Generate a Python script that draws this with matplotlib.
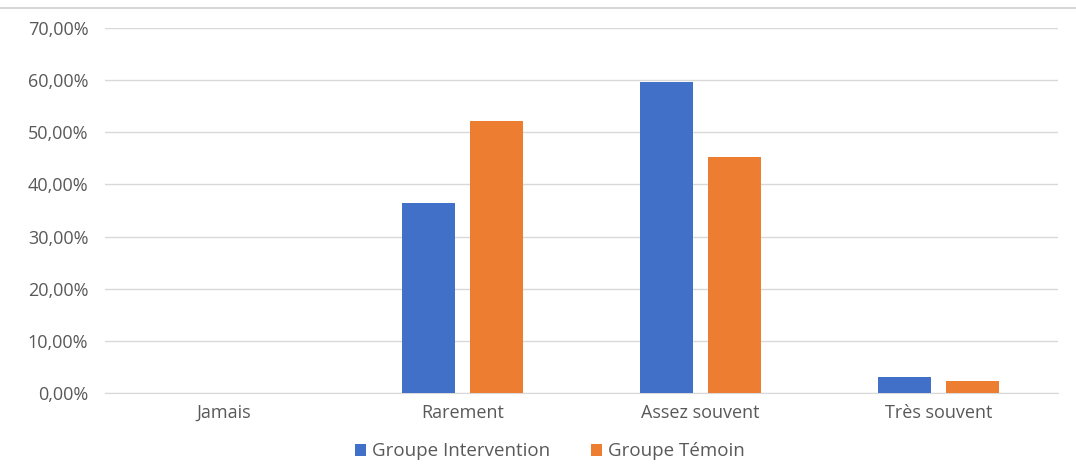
import numpy as np
import matplotlib
matplotlib.use("Agg")
import matplotlib.pyplot as plt
from matplotlib.lines import Line2D
from matplotlib.ticker import FuncFormatter, MultipleLocator

# ───── Data ─────
categories   = ["Jamais", "Rarement", "Assez souvent", "Très souvent"]
intervention = [0.0, 36.4, 59.6, 3.0]
temoin       = [0.0, 52.2, 45.3, 2.3]
series_names = ["Groupe Intervention", "Groupe Témoin"]

BLUE   = "#4070C8"
ORANGE = "#ED7D31"
GRID   = "#d9d9d9"
TEXT   = "#595959"

plt.rcParams["font.family"] = ["Open Sans", "DejaVu Sans"]

fig = plt.figure(figsize=(10.76, 4.76), dpi=100)
ax = fig.add_axes([0.0976, 0.1744, 0.8854, 0.7668])

x = np.arange(len(categories))
w = 0.223
off = 0.143
ax.bar(x - off, np.array(intervention) / 100, w, color=BLUE, label=series_names[0], zorder=3)
ax.bar(x + off, np.array(temoin) / 100, w, color=ORANGE, label=series_names[1], zorder=3)

ax.set_xlim(-0.5, len(categories) - 0.5)
ax.set_ylim(0, 0.70)
ax.yaxis.set_major_locator(MultipleLocator(0.10))
ax.yaxis.set_major_formatter(FuncFormatter(lambda v, _: f"{v*100:.2f}%".replace(".", ",")))
ax.grid(axis="y", color=GRID, linewidth=1, zorder=0)

ax.set_xticks(x)
ax.set_xticklabels(categories)
ax.tick_params(axis="both", length=0, labelsize=13, labelcolor=TEXT)
ax.tick_params(axis="y", pad=12)
ax.tick_params(axis="x", pad=8)

for s in ["top", "right", "left"]:
    ax.spines[s].set_visible(False)
ax.spines["bottom"].set_color(GRID)

# chart frame line along the top
fig.add_artist(Line2D([0, 1], [1 - 8 / 476, 1 - 8 / 476], color="#cfcfcf", linewidth=1.2))

leg = fig.legend(loc="center", bbox_to_anchor=(0.511, 0.052), ncol=2, frameon=False,
                 fontsize=13.5, handlelength=0.6, handleheight=0.6, handletextpad=0.3,
                 columnspacing=2.2)
for t in leg.get_texts():
    t.set_color(TEXT)

fig.savefig("out.png", dpi=100, facecolor="white")
